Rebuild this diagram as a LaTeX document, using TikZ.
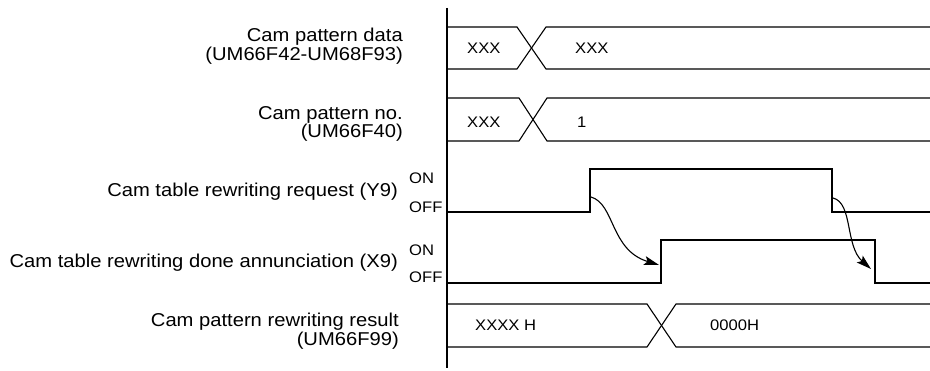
\documentclass[tikz,border=0pt]{standalone}
\usepackage{fontspec}
\setmainfont{Liberation Sans}[FakeStretch=1.085]
\usetikzlibrary{arrows.meta}
\begin{document}
\begin{tikzpicture}[x=1pt,y=-1pt,
  sig/.style={line width=1.4pt},
  bus/.style={line width=1.1pt},
  lbl/.style={font=\fontsize{18.6}{18.5}\selectfont, align=right, anchor=east, inner sep=0pt},
  small/.style={font=\fontsize{15.3}{16}\selectfont, inner sep=0pt, anchor=west},
  arr/.style={line width=1.1pt, -{Stealth[length=15pt,width=9pt,inset=3pt]}}]
\useasboundingbox (0,0) rectangle (930,371);
% axis
\draw[bus] (447,8) -- (447,368);
% labels
\node[lbl] (l1) at (403,46) {Cam pattern data\\(UM66F42-UM68F93)};
\node[lbl] (l2) at (403,124) {Cam pattern no.\\(UM66F40)};
\node[lbl] (l3) at (398,192) {Cam table rewriting request (Y9)};
\node[small] (on1) at (409,178) {ON};
\node[small] (off1) at (409,207) {OFF};
\node[lbl] (l4) at (398,263) {Cam table rewriting done annunciation (X9)};
\node[small] (on2) at (409,250) {ON};
\node[small] (off2) at (409,277) {OFF};
\node[lbl] (l5) at (399,331) {Cam pattern rewriting result\\(UM66F99)};
% row 1 bus
\draw[bus] (447,27) -- (517,27) -- (546,69) -- (930,69);
\draw[bus] (447,69) -- (517,69) -- (546,27) -- (930,27);
\node[small] (t1a) at (467,48) {XXX};
\node[small] (t1b) at (575,48) {XXX};
% row 2 bus
\draw[bus] (447,98) -- (519,98) -- (547,141) -- (930,141);
\draw[bus] (447,141) -- (519,141) -- (547,98) -- (930,98);
\node[small] (t2a) at (467,122) {XXX};
\node[small] (t2b) at (577,122) {1};
% request
\draw[sig] (447,212) -- (590,212) -- (590,169) -- (832,169) -- (832,212) -- (930,212);
% done
\draw[sig] (447,283) -- (661,283) -- (661,240) -- (875,240) -- (875,283) -- (930,283);
% result bus
\draw[bus] (447,304) -- (647,304) -- (676,347) -- (930,347);
\draw[bus] (447,347) -- (647,347) -- (676,304) -- (930,304);
\node[small] (t3a) at (475,325) {XXXX H};
\node[small] (t3b) at (710,325) {0000H};
% arrows
\coordinate (a1s) at (591,197);
\coordinate (a1e) at (659,265);
\coordinate (a2s) at (833,198);
\coordinate (a2e) at (871,269);
\draw[arr] (a1s) .. controls (615,204) and (610,250) .. (a1e);
\draw[arr] (a2s) .. controls (853,203) and (845,246) .. (a2e);
\end{tikzpicture}
\end{document}
